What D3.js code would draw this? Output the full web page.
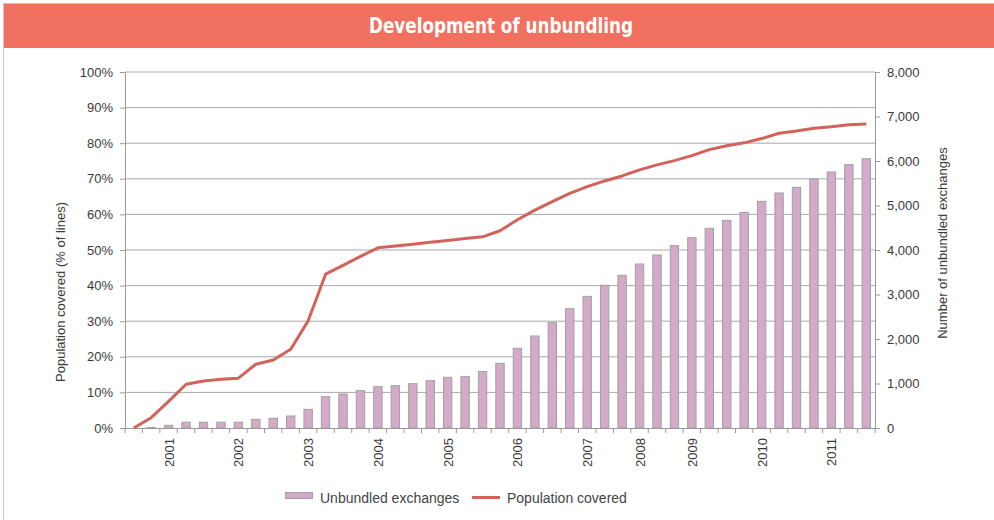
<!DOCTYPE html>
<html lang="en">
<head>
<meta charset="UTF-8">
<title>Development of unbundling</title>
<script src="https://d3js.org/d3.v7.min.js"></script>
<style>
    body { margin: 0; background: #fff; }
    svg { display: block; }
    .tick-label { font-family: "Liberation Sans", Arial, sans-serif; font-size: 13px; fill: #3a3a3a; }
    .axis-title { font-family: "Liberation Sans", Arial, sans-serif; font-size: 13px; fill: #3a3a3a; }
    .legend text { font-family: "Liberation Sans", Arial, sans-serif; font-size: 14px; fill: #444; }
</style>
</head>
<body>
<svg id="chart" width="994" height="520"></svg>
<script>
    // periods (quarterly-ish), only some carry a year label
    const periods = d3.range(43);
    const yearLabels = ["", "", "2001", "", "", "", "2002", "", "", "", "2003", "", "", "", "2004", "", "", "", "2005", "", "", "",
        "2006", "", "", "", "2007", "", "", "2008", "", "", "2009", "", "", "", "2010", "", "", "", "2011", "", ""];

    // number of unbundled exchanges (right axis)
    const exchanges = [0, 10, 60, 130, 130, 130, 130, 195, 218, 270, 420, 704, 764, 839, 929, 951, 996, 1064, 1139, 1154,
        1270, 1453, 1791, 2067, 2367, 2681, 2958, 3206, 3431, 3685, 3888, 4097, 4277, 4487, 4667, 4846, 5094, 5281, 5408,
        5596, 5753, 5918, 6052];

    // population covered, % of lines (left axis)
    const coverage = [0, 2.9, 7.5, 12.3, 13.2, 13.7, 14.0, 17.9, 19.1, 22.1, 30.1, 43.2, 45.7, 48.2, 50.6, 51.1, 51.6,
        52.2, 52.7, 53.2, 53.7, 55.4, 58.5, 61.2, 63.6, 65.9, 67.8, 69.4, 70.8, 72.5, 73.9, 75.1, 76.5, 78.2, 79.3, 80.1,
        81.3, 82.8, 83.4, 84.2, 84.6, 85.2, 85.4];

    const pctTicks = d3.range(0, 101, 10);
    const countTicks = d3.range(0, 8001, 1000);

    const svg = d3.select("#chart");
    const plotLeft = 125, plotRight = 875, plotTop = 72, plotBottom = 428;

    // frame and title band
    svg.append("rect")
        .attr("x", 3.5).attr("y", 3.5)
        .attr("width", 1000).attr("height", 530)
        .attr("fill", "#fff")
        .attr("stroke", "#c3c8cd");
    svg.append("rect")
        .attr("x", 4).attr("y", 4)
        .attr("width", 990).attr("height", 44)
        .attr("fill", "#f2705f");
    svg.append("text")
        .attr("x", 501).attr("y", 33)
        .attr("text-anchor", "middle")
        .attr("font-family", "'DejaVu Sans Condensed', 'DejaVu Sans', sans-serif")
        .attr("font-stretch", "condensed")
        .attr("font-weight", "bold")
        .attr("font-size", 21)
        .attr("fill", "#fff")
        .attr("textLength", 264)
        .attr("lengthAdjust", "spacingAndGlyphs")
        .text("Development of unbundling");

    const x = d3.scaleBand()
        .domain(periods)
        .range([plotLeft, plotRight])
        .paddingInner(0.52)
        .paddingOuter(0.26);

    const yPct = d3.scaleLinear().domain([0, 100]).range([plotBottom, plotTop]);
    const yCount = d3.scaleLinear().domain([0, 8000]).range([plotBottom, plotTop]);

    // gridlines
    svg.append("g")
        .selectAll("line")
        .data(pctTicks.slice(1))
        .enter().append("line")
        .attr("x1", plotLeft).attr("x2", plotRight)
        .attr("y1", d => yPct(d)).attr("y2", d => yPct(d))
        .attr("stroke", "#a9a9a9")
        .attr("stroke-width", 1);

    // bars
    svg.append("g")
        .selectAll("rect")
        .data(exchanges)
        .enter().append("rect")
        .attr("x", (d, i) => x(periods[i]))
        .attr("y", d => yCount(d))
        .attr("width", x.bandwidth())
        .attr("height", d => plotBottom - yCount(d))
        .attr("fill", "#d5aac8")
        .attr("stroke", "#a0a0a0")
        .attr("stroke-width", 1);

    // left axis
    const leftAxis = svg.append("g")
        .attr("transform", `translate(${plotLeft},0)`)
        .call(d3.axisLeft(yPct).tickValues(pctTicks).tickFormat(d => d + "%").tickSize(5).tickPadding(7));

    // right axis
    const rightAxis = svg.append("g")
        .attr("transform", `translate(${plotRight},0)`)
        .call(d3.axisRight(yCount).tickValues(countTicks).tickFormat(d3.format(",")).tickSize(5).tickPadding(7));

    [leftAxis, rightAxis].forEach(g => {
        g.attr("font-family", null).attr("font-size", null);
        g.selectAll("line, path").attr("stroke", "#9a9a9a");
        g.selectAll("text").attr("class", "tick-label").attr("fill", null);
    });

    // bottom axis: ticks at period boundaries, year labels rotated
    const step = x.step();
    const boundaries = d3.range(periods.length + 1).map(i => plotLeft + i * step);
    svg.append("line")
        .attr("x1", plotLeft).attr("x2", plotRight)
        .attr("y1", plotBottom + 0.5).attr("y2", plotBottom + 0.5)
        .attr("stroke", "#9a9a9a");
    svg.append("g")
        .selectAll("line")
        .data(boundaries)
        .enter().append("line")
        .attr("x1", d => d).attr("x2", d => d)
        .attr("y1", plotBottom).attr("y2", plotBottom + 5)
        .attr("stroke", "#9a9a9a");
    svg.append("g")
        .selectAll("text")
        .data(periods.filter(i => yearLabels[i] !== ""))
        .enter().append("text")
        .attr("class", "tick-label")
        .attr("transform", d => `translate(${x(d) + x.bandwidth() / 2 + 5},${plotBottom + 10}) rotate(-90)`)
        .attr("text-anchor", "end")
        .text(d => yearLabels[d]);

    // coverage line
    const line = d3.line()
        .x((d, i) => x(periods[i]) + x.bandwidth() / 2)
        .y(d => yPct(d));
    svg.append("path")
        .datum(coverage)
        .attr("d", line)
        .attr("fill", "none")
        .attr("stroke", "#d3625b")
        .attr("stroke-width", 3)
        .attr("stroke-linejoin", "round");

    // axis titles
    svg.append("text")
        .attr("class", "axis-title")
        .attr("transform", "translate(65,292) rotate(-90)")
        .attr("text-anchor", "middle")
        .text("Population covered (% of lines)");
    svg.append("text")
        .attr("class", "axis-title")
        .attr("transform", "translate(947,243) rotate(-90)")
        .attr("text-anchor", "middle")
        .text("Number of unbundled exchanges");

    // legend
    const legend = svg.append("g").attr("class", "legend");
    legend.append("rect")
        .attr("x", 285.5).attr("y", 492.5)
        .attr("width", 27).attr("height", 6)
        .attr("fill", "#d5aac8").attr("stroke", "#a0a0a0");
    legend.append("text")
        .attr("x", 320).attr("y", 503)
        .text("Unbundled exchanges");
    legend.append("line")
        .attr("x1", 472).attr("x2", 500)
        .attr("y1", 497.5).attr("y2", 497.5)
        .attr("stroke", "#d3625b").attr("stroke-width", 3);
    legend.append("text")
        .attr("x", 507).attr("y", 503)
        .text("Population covered");
</script>
</body>
</html>
